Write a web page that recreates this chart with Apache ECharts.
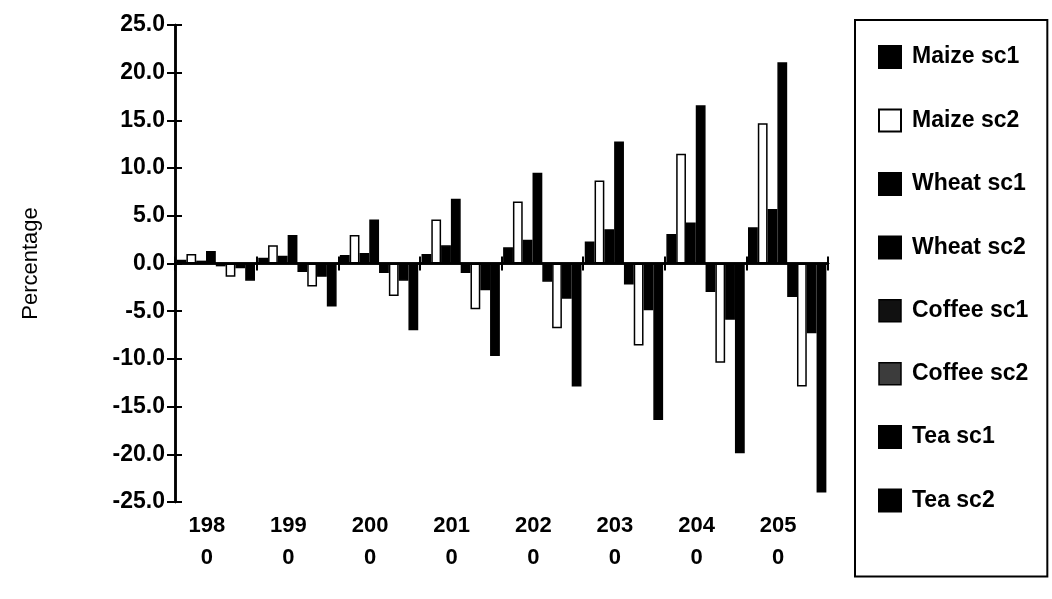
<!DOCTYPE html>
<html>
<head>
<meta charset="utf-8">
<script src="https://cdn.jsdelivr.net/npm/echarts@6/dist/echarts.min.js"></script>
<style>
html,body{margin:0;padding:0;background:#fff;}
#c{width:1052px;height:599px;}
</style>
</head>
<body>
<div id="c"></div>
<script>
const categories = ['1980','1990','2000','2010','2020','2030','2040','2050'];
const seriesNames = ['Maize sc1','Maize sc2','Wheat sc1','Wheat sc2','Coffee sc1','Coffee sc2','Tea sc1','Tea sc2'];
const maizeSc1  = [0.4, 0.6, 0.9, 1.0, 1.7, 2.3, 3.1, 3.8];
const maizeSc2  = [1.0, 1.9, 3.0, 4.6, 6.5, 8.7, 11.5, 14.7];
const wheatSc1  = [0.3, 0.8, 1.1, 1.9, 2.5, 3.6, 4.3, 5.7];
const wheatSc2  = [1.3, 3.0, 4.6, 6.8, 9.5, 12.8, 16.6, 21.1];
const coffeeSc1 = [-0.3, -0.9, -1.0, -1.0, -1.9, -2.2, -3.0, -3.5];
const coffeeSc2 = [-1.4, -2.4, -3.4, -4.8, -6.8, -8.6, -10.4, -12.9];
const teaSc1    = [-0.5, -1.4, -1.8, -2.8, -3.7, -4.9, -5.9, -7.3];
const teaSc2    = [-1.8, -4.5, -7.0, -9.7, -12.9, -16.4, -19.9, -24.0];
const yTicks = {min: -25, max: 25, interval: 5};

const values = [maizeSc1, maizeSc2, wheatSc1, wheatSc2, coffeeSc1, coffeeSc2, teaSc1, teaSc2];
const fills = ['#000','#fff','#000','#000','#000','#fff','#000','#000'];
const FONT = '"Liberation Sans", Arial, sans-serif';

const chart = echarts.init(document.getElementById('c'), null, {renderer: 'canvas'});

const series = seriesNames.map((n, i) => ({
  name: n,
  type: 'bar',
  xAxisIndex: 0,
  yAxisIndex: 0,
  data: values[i],
  barGap: '0%',
  barCategoryGap: '4%',
  itemStyle: {color: fills[i], borderColor: '#000', borderWidth: 1.5},
  emphasis: {disabled: true},
  animation: false
}));

const legendData = seriesNames.map((n, i) => {
  if (n === 'Coffee sc2') return {name: n, itemStyle: {color: '#3c3c3c', borderColor: '#000', borderWidth: 1.5}};
  if (n === 'Coffee sc1') return {name: n, itemStyle: {color: '#111', borderColor: '#000', borderWidth: 1.5}};
  return {name: n};
});

const tickLine = {color: '#000', width: 2};

chart.setOption({
  backgroundColor: '#fff',
  animation: false,
  grid: {left: 175, right: 224, top: 25, bottom: 97, containLabel: false, outerBoundsMode: 'none'},
  legend: {
    orient: 'vertical',
    left: 855,
    top: 20,
    data: legendData,
    icon: 'rect',
    itemWidth: 22,
    itemHeight: 22,
    itemGap: 39.5,
    padding: [25, 19, 64, 23],
    borderColor: '#000',
    borderWidth: 2,
    selectedMode: false,
    textStyle: {fontFamily: FONT, fontWeight: 'bold', fontSize: 23, color: '#000', padding: [4, 0, 0, 6]}
  },
  xAxis: [
    {
      // category labels at the bottom of the plot
      type: 'category',
      data: categories,
      position: 'bottom',
      axisLine: {show: false, onZero: false},
      axisTick: {show: false},
      axisLabel: {
        margin: 8,
        interval: 0,
        formatter: v => v.slice(0, 3) + '\n' + v.slice(3),
        fontFamily: FONT, fontWeight: 'bold', fontSize: 22, color: '#000',
        lineHeight: 32,
        padding: [0, 18, 0, 0]
      },
      splitLine: {show: false}
    },
    {
      // axis line on zero, ticks pointing up
      type: 'category',
      data: categories,
      position: 'top',
      axisLine: {onZero: true, lineStyle: {color: '#000', width: 2.5}},
      axisTick: {show: true, alignWithLabel: false, inside: false, length: 7, lineStyle: tickLine},
      axisLabel: {show: false},
      splitLine: {show: false}
    },
    {
      // ticks pointing down from the zero line
      type: 'category',
      data: categories,
      position: 'bottom',
      axisLine: {onZero: true, lineStyle: {color: '#000', width: 2.5}},
      axisTick: {show: true, alignWithLabel: false, inside: false, length: 7, lineStyle: tickLine},
      axisLabel: {show: false},
      splitLine: {show: false}
    }
  ],
  yAxis: [
    {
      type: 'value',
      min: yTicks.min, max: yTicks.max, interval: yTicks.interval,
      position: 'left',
      name: 'Percentage',
      nameLocation: 'middle',
      nameGap: 133,
      nameRotate: 90,
      nameTextStyle: {fontFamily: FONT, fontSize: 22, color: '#000'},
      axisLine: {show: true, lineStyle: {color: '#000', width: 2.5}},
      axisTick: {show: true, inside: false, length: 8, lineStyle: tickLine},
      axisLabel: {
        margin: 10,
        formatter: v => v.toFixed(1),
        fontFamily: FONT, fontWeight: 'bold', fontSize: 23, color: '#000'
      },
      splitLine: {show: false}
    },
    {
      type: 'value',
      min: yTicks.min, max: yTicks.max, interval: yTicks.interval,
      position: 'right',
      offset: -653,
      axisLine: {show: true, lineStyle: {color: '#000', width: 2.5}},
      axisTick: {show: true, inside: false, length: 7, lineStyle: tickLine},
      axisLabel: {show: false},
      splitLine: {show: false}
    }
  ],
  series: series
});
</script>
</body>
</html>
